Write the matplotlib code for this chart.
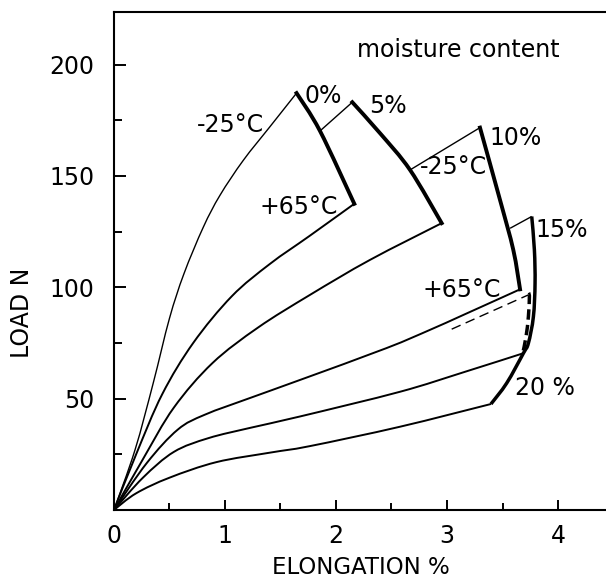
import numpy as np
import matplotlib.pyplot as plt
from matplotlib.path import Path
from matplotlib.patches import PathPatch
from matplotlib.ticker import MultipleLocator

# load-elongation curves, starting at the origin
elong_0_cold = [0, 0.19, 0.354, 0.5, 0.63, 0.805, 0.955, 1.165, 1.405, 1.645]
load_0_cold = [0, 27, 57, 86, 106, 127, 141.3, 157, 172.1, 187.2]

elong_0_hot = [0, 0.2, 0.435, 0.714, 1.062, 1.405, 1.76, 2.165]
load_0_hot = [0, 25, 52, 75, 96, 110.5, 123, 137.5]

elong_5_hot = [0, 0.261, 0.54, 0.888, 1.3, 1.766, 2.306, 2.952]
load_5_hot = [0, 22.8, 46, 66, 82, 96.6, 112.3, 128.8]

elong_10_hot = [0, 0.296, 0.575, 0.819, 1.237, 1.676, 2.455, 2.847, 3.152, 3.658]
load_10_hot = [0, 21.1, 36.1, 42.8, 50.5, 58.4, 72.7, 80.9, 87.7, 99.1]

elong_15_hot = [0, 0.261, 0.54, 0.853, 1.237, 1.676, 2.577, 3.152, 3.688]
load_15_hot = [0, 14.5, 26.1, 32.3, 37, 42, 53.1, 61.9, 70.4]

elong_20_hot = [0, 0.2, 0.5, 0.923, 1.411, 1.766, 2.577, 3.396]
load_20_hot = [0, 7.5, 14.5, 21.5, 25.8, 28.7, 37.4, 47.6]

# fracture lines for each moisture content (-25 C end to +65 C end)
break_0_x = [1.645, 1.856, 2.165]
break_0_y = [187.2, 170.2, 137.5]
break_5_x = [2.147, 2.40, 2.667, 2.952]
break_5_y = [183.1, 169, 152.7, 128.8]
break_10_x = [3.297, 3.477, 3.597, 3.658]
break_10_y = [171.7, 139.3, 116.8, 99.1]
break_15_20_x = [3.763, 3.787, 3.793, 3.778, 3.733, 3.688, 3.538, 3.396]
break_15_20_y = [131.8, 116.8, 101.8, 86.8, 74.9, 70.4, 57, 47.6]

# -25 C curves, shown beyond the previous fracture line only
cold_5_x = [1.856, 2.147]
cold_5_y = [170.2, 183.1]
cold_10_x = [2.667, 3.297]
cold_10_y = [152.7, 171.7]
cold_15_x = [3.568, 3.763]
cold_15_y = [126.5, 131.8]

# dashed branch
dash_x = [3.042, 3.733]
dash_y = [81.2, 96.6]
dash_break_x = [3.733, 3.742, 3.733, 3.712, 3.682]
dash_break_y = [96.6, 95.8, 86.8, 77.9, 70.4]


def smooth_curve(ax, x, y, **kw):
    # cubic bezier path through the points (catmull-rom handles)
    p = np.column_stack([x, y]).astype(float)
    if len(p) < 3:
        ax.add_patch(PathPatch(Path(p), fill=False, **kw))
        return
    ext = np.vstack([p[0], p, p[-1]])
    verts = [p[0]]
    codes = [Path.MOVETO]
    for i in range(1, len(ext) - 2):
        c1 = ext[i] + (ext[i + 1] - ext[i - 1]) / 6
        c2 = ext[i + 1] - (ext[i + 2] - ext[i]) / 6
        verts += [c1, c2, ext[i + 1]]
        codes += [Path.CURVE4] * 3
    ax.add_patch(PathPatch(Path(verts, codes), fill=False, **kw))


plt.rcParams['font.family'] = 'DejaVu Sans'

fig = plt.figure(figsize=(6.06, 5.82), dpi=100)
ax = fig.add_axes([0.188, 0.1237, 0.812, 0.856])

smooth_curve(ax, elong_0_cold, load_0_cold, color='k', lw=1.0)
for x, y in [(elong_0_hot, load_0_hot), (elong_5_hot, load_5_hot),
             (elong_10_hot, load_10_hot), (elong_15_hot, load_15_hot),
             (elong_20_hot, load_20_hot)]:
    smooth_curve(ax, x, y, color='k', lw=1.4)

for x, y in [(break_0_x, break_0_y), (break_5_x, break_5_y),
             (break_10_x, break_10_y)]:
    smooth_curve(ax, x, y, color='k', lw=2.8, capstyle='projecting')
smooth_curve(ax, break_15_20_x, break_15_20_y, color='k', lw=2.5)

for x, y in [(cold_5_x, cold_5_y), (cold_10_x, cold_10_y), (cold_15_x, cold_15_y)]:
    smooth_curve(ax, x, y, color='k', lw=1.0)

smooth_curve(ax, dash_x, dash_y, color='k', lw=1.0, linestyle=(0, (7, 4)))
smooth_curve(ax, dash_break_x, dash_break_y, color='k', lw=2.5, linestyle=(0, (3, 1.5)))

txt = dict(fontsize=17, color='k', ha='center', va='center')
ax.text(3.1, 206.6, 'moisture content', **txt)
ax.text(1.045, 173, '-25°C', **txt)
ax.text(1.886, 185.7, '0%', **txt)
ax.text(1.66, 136.2, '+65°C', **txt)
ax.text(2.471, 181.2, '5%', **txt)
ax.text(3.057, 154.2, '-25°C', **txt)
ax.text(3.613, 167, '10%', **txt)
ax.text(4.033, 125.8, '15%', **txt)
ax.text(3.132, 98.8, '+65°C', **txt)
ax.text(3.883, 54.7, '20 %', **txt)

ax.set_xlim(0, 4.432)
ax.set_ylim(0, 223.7)
ax.xaxis.set_major_locator(MultipleLocator(1))
ax.xaxis.set_minor_locator(MultipleLocator(0.5))
ax.yaxis.set_minor_locator(MultipleLocator(25))
ax.set_yticks([50, 100, 150, 200])
ax.tick_params(which='both', direction='in', width=1.4, labelsize=17)
ax.tick_params(axis='y', which='major', length=8.5, pad=14)
ax.tick_params(axis='y', which='minor', length=6)
ax.tick_params(axis='x', which='major', length=7.5, pad=10)
ax.tick_params(axis='x', which='minor', length=5)

ax.spines['right'].set_visible(False)
for side in ['left', 'bottom', 'top']:
    ax.spines[side].set_linewidth(1.5)

ax.set_xlabel('ELONGATION %', fontsize=16.5)
ax.set_ylabel('LOAD N', fontsize=17)
ax.xaxis.set_label_coords(0.502, -0.093)
ax.yaxis.set_label_coords(-0.163, 0.396)

fig.savefig('out.png')
